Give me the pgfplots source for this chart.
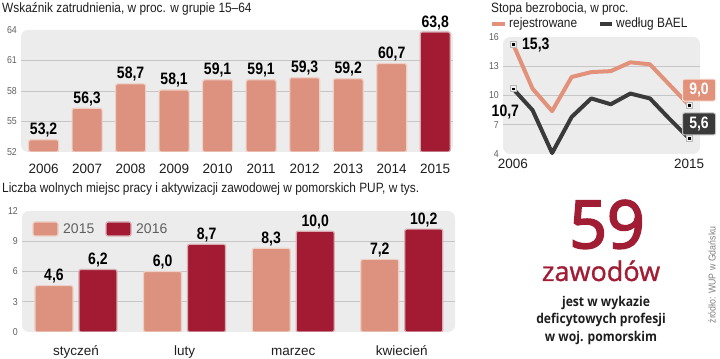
\documentclass[border=0pt]{standalone}
\usepackage{fontspec}
\setmainfont{Liberation Sans}
\newfontfamily\tfont[FakeStretch=0.88]{Liberation Sans}
\newfontfamily\vfont[FakeStretch=0.85]{Liberation Sans}
\newfontfamily\osans[FakeBold=3]{Open Sans}
\newfontfamily\osansz[FakeBold=1.2]{Open Sans}
\newfontfamily\osanscond[FakeStretch=0.9]{Open Sans}
\usepackage{pgfplots}
\pgfplotsset{compat=1.18}
\definecolor{lbar}{RGB}{220,146,126}
\definecolor{dbar}{RGB}{163,27,50}
\definecolor{lbarrim}{RGB}{238,208,198}
\definecolor{dbarrim}{RGB}{215,172,178}
\definecolor{bg}{RGB}{236,236,236}
\definecolor{gridc}{RGB}{198,198,198}
\definecolor{tickc}{RGB}{95,95,95}
\definecolor{rej}{RGB}{226,146,122}
\definecolor{bael}{RGB}{58,58,58}
\definecolor{red59}{RGB}{160,29,52}
\definecolor{txt}{RGB}{30,30,30}
\pgfplotsset{
  infog/.style={
    scale only axis,
    axis line style={draw=none},
    major tick style={draw=none},
    minor tick style={draw=none},
    axis background/.style={fill=bg, rounded corners=7pt},
    /pgf/number format/assume math mode=true,
    yticklabel style={font=\tfont\fontsize{10}{10}\selectfont, text=tickc, inner sep=0pt, anchor=east, xshift=-4pt},
    xticklabel style={font=\fontsize{13.5}{13.5}\selectfont, text=txt, inner sep=0pt, anchor=base},
    extra y tick style={grid=major, major grid style={draw=gridc, line width=0.9pt}},
    extra y tick labels={},
  },
  vlabels/.style={
    nodes near coords={\pgfmathprintnumber[fixed,fixed zerofill,precision=1,use comma,assume math mode=true]{\pgfplotspointmeta}},
    nodes near coords style={font=\vfont\bfseries\fontsize{16.5}{16.5}\selectfont, text=black, inner sep=0pt, anchor=base, yshift=5pt},
  },
}
\begin{document}
\begin{tikzpicture}[x=1pt,y=1pt]
\path (0,0) rectangle (720,355);
% titles
\node[anchor=base west, inner sep=0pt, font=\tfont\fontsize{13.5}{13.5}\selectfont, text=txt] at (2,342) {Wskaźnik zatrudnienia, w proc. w grupie 15–64};
\node[anchor=base west, inner sep=0pt, font=\tfont\fontsize{13.5}{13.5}\selectfont, text=txt] at (491,342) {Stopa bezrobocia, w proc.};
\node[anchor=base west, inner sep=0pt, font=\tfont\fontsize{13.5}{13.5}\selectfont, text=txt] at (2,162) {Liczba wolnych miejsc pracy i aktywizacji zawodowej w pomorskich PUP, w tys.};

% ---------- top bar chart
\begin{axis}[infog, vlabels, at={(21pt,203pt)}, anchor=south west,
  width=432pt, height=122pt,
  xmin=-0.52, xmax=9.41, ymin=52, ymax=64,
  ytick={52,55,58,61,64}, extra y ticks={55,58,61},
  xtick={0,1,2,3,4,5,6,7,8,9},
  xticklabels={2006,2007,2008,2009,2010,2011,2012,2013,2014,2015},
  xticklabel style={yshift=-17pt},
  clip mode=individual,
  ybar, bar width=30pt]
\addplot[fill=lbar, draw=lbarrim, line width=1.2pt, rounded corners=2pt, bar shift=0pt]
  coordinates {(0,53.2)(1,56.3)(2,58.7)(3,58.1)(4,59.1)(5,59.1)(6,59.3)(7,59.2)(8,60.7)};
\addplot[fill=dbar, draw=dbarrim, line width=1.2pt, rounded corners=2pt, bar shift=0pt]
  coordinates {(9,63.8)};
\end{axis}

% ---------- line chart
\draw[rej, line width=3.5pt] (492,331) -- (505,331);
\node[anchor=west, inner sep=0pt, font=\tfont\fontsize{13.5}{13.5}\selectfont, text=txt] at (509,331) {rejestrowane};
\draw[bael, line width=3.5pt] (600,331) -- (612,331);
\node[anchor=west, inner sep=0pt, font=\tfont\fontsize{13.5}{13.5}\selectfont, text=txt] at (616,331) {według BAEL};
\begin{axis}[infog, at={(503pt,201pt)}, anchor=south west, width=197pt, height=117pt,
  xmin=2005.49, xmax=2015.56, ymin=4, ymax=16,
  ytick={4,7,10,13,16}, extra y ticks={7,10,13},
  xtick={2006,2015}, xticklabels={2006,2015}, xticklabel style={yshift=-15pt},
  clip=false]
\addplot[rej, line width=4pt, line join=round] coordinates {
 (2006,15.3)(2007,10.7)(2008,8.4)(2009,11.9)(2010,12.4)(2011,12.5)(2012,13.4)(2013,13.2)(2014,11.1)(2015,9.0)};
\addplot[bael, line width=4pt, line join=round] coordinates {
 (2006,10.7)(2007,8.5)(2008,4.1)(2009,7.8)(2010,9.7)(2011,9.1)(2012,10.2)(2013,9.7)(2014,7.6)(2015,5.6)};
\addplot[only marks, mark=square*, mark size=3pt, mark options={fill=gray!12, draw=gray!55, line width=0.6pt}]
  coordinates {(2006,15.3)(2015,9.0)(2006,10.7)(2015,5.6)};
\addplot[only marks, mark=square*, mark size=0.9pt, mark options={fill=black, draw=black}]
  coordinates {(2006,15.3)(2015,9.0)(2006,10.7)(2015,5.6)};
\node[anchor=west, inner sep=0pt, font=\vfont\bfseries\fontsize{16.5}{16.5}\selectfont] at (axis cs:2006.46,15.18) {15,3};
\node[anchor=east, inner sep=0pt, font=\vfont\bfseries\fontsize{16.5}{16.5}\selectfont] at (axis cs:2006.32,8.3) {10,7};
\node[fill=rej, draw=white!75!rej, line width=1pt, rounded corners=2pt, text=white, inner sep=2pt, minimum width=33pt, minimum height=22pt, font=\vfont\bfseries\fontsize{16.5}{16.5}\selectfont] at (axis cs:2015.51,10.56) {9,0};
\node[fill=bael, draw=white!70!bael, line width=1pt, rounded corners=2pt, text=white, inner sep=2pt, minimum width=33pt, minimum height=22pt, font=\vfont\bfseries\fontsize{16.5}{16.5}\selectfont] at (axis cs:2015.51,7.08) {5,6};
\end{axis}

% ---------- bottom bar chart
\begin{axis}[infog, vlabels, at={(22pt,23pt)}, anchor=south west, width=433pt, height=121pt,
  xmin=-0.497, xmax=3.49, ymin=0, ymax=12,
  ytick={0,3,6,9,12}, extra y ticks={3,6,9},
  xtick={0,1,2,3}, xticklabels={styczeń,luty,marzec,kwiecień},
  xticklabel style={yshift=-19pt},
  clip mode=individual,
  ybar, bar width=38pt]
\addplot[fill=lbar, draw=lbarrim, line width=1.2pt, rounded corners=2pt, bar shift=-22pt]
  coordinates {(0,4.6)(1,6.0)(2,8.3)(3,7.2)};
\addplot[fill=dbar, draw=dbarrim, line width=1.2pt, rounded corners=2pt, bar shift=22pt]
  coordinates {(0,6.2)(1,8.7)(2,10.0)(3,10.2)};
\end{axis}
% legend of bottom chart
\fill[lbar, draw=lbarrim, line width=1.2pt, rounded corners=2pt] (33,119) rectangle (58,133);
\node[anchor=west, inner sep=0pt, font=\fontsize{14}{14}\selectfont, text=tickc] at (63,126) {2015};
\fill[dbar, draw=dbarrim, line width=1.2pt, rounded corners=2pt] (106,119) rectangle (131,133);
\node[anchor=west, inner sep=0pt, font=\fontsize{14}{14}\selectfont, text=tickc] at (136,126) {2016};

% ---------- right text
\node[anchor=base, inner sep=0pt, font=\osans\fontsize{66}{66}\selectfont, text=red59] at (607,107) {59};
\node[anchor=base, inner sep=0pt, font=\osansz\fontsize{27}{27}\selectfont, text=red59] at (601,74) {zawodów};
\node[anchor=base, inner sep=0pt, font=\osanscond\bfseries\fontsize{13.5}{13.5}\selectfont, text=txt] at (606,48) {jest w wykazie};
\node[anchor=base, inner sep=0pt, font=\osanscond\bfseries\fontsize{13.5}{13.5}\selectfont, text=txt] at (601,31) {deficytowych profesji};
\node[anchor=base, inner sep=0pt, font=\osanscond\bfseries\fontsize{13.5}{13.5}\selectfont, text=txt] at (601,13) {w woj. pomorskim};
\node[rotate=90, inner sep=0pt, font=\tfont\fontsize{10}{10}\selectfont, text=gray] at (712,80) {źródło: WUP w Gdańsku};
\end{tikzpicture}
\end{document}
